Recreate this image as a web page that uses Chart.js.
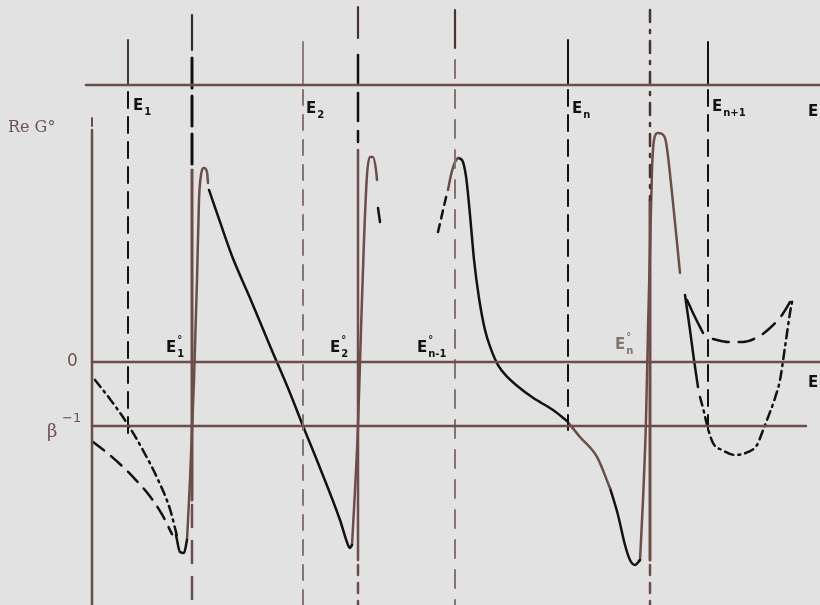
<!DOCTYPE html>
<html><head><meta charset="utf-8">
<script src="https://cdn.jsdelivr.net/npm/chart.js@4"></script>
<style>html,body{margin:0;padding:0;background:#e2e2e2;overflow:hidden}canvas{display:block}</style>
</head><body>
<canvas id="c" width="820" height="605"></canvas>
<script>
// ---- Data (E in arbitrary units, Re G° in units where β⁻¹ = -1) ----
const axisLeft    = [[92,3.625],[92,-3.797]];
const axisLeftTop = [[92,3.813],[92,3.688]];
const lineTop  = [[86,4.328],[820,4.328]];
const lineZero = [[92,0],[820,0]];
const lineBeta = [[92,-1],[806,-1]];

const e1Solid  = [[128,5.031],[128,4.328]];
const e1Dash   = [[128,4.219],[128,-1.141]];
const e2Solid  = [[303,5.0],[303,4.328]];
const e2Dash   = [[303,4.25],[303,-3.797]];
const enSolid  = [[568,5.031],[568,4.328]];
const enDash   = [[568,4.25],[568,-1.063]];
const en1Solid = [[708,5.0],[708,4.328]];
const en1Dash  = [[708,4.25],[708,-1.063]];

const e1zTop   = [[192,5.422],[192,4.875]];
const e1zDash  = [[192,4.75],[192,3.031]];
const e1zSolid = [[192,3.0],[192,-2.156]];
const e1zLow   = [[192,-2.234],[192,-3.797]];
const e2zTop   = [[358,5.547],[358,5.063]];
const e2zDash  = [[358,4.797],[358,3.438]];
const e2zSolid = [[358,3.313],[358,-3.094]];
const e2zLow   = [[358,-3.172],[358,-3.797]];
const en1zTop  = [[455,5.5],[455,4.906]];
const en1zDash = [[455,4.719],[455,-3.797]];
const enzTop   = [[650,5.5],[650,2.531]];
const enzSolid = [[650,2.531],[650,-3.094]];
const enzLow   = [[650,-3.172],[650,-3.797]];

// curves
const aDashDot = [[95,-0.28],[110,-0.58],[128,-0.98],[143,-1.38],[158,-1.84],[170,-2.3],[177,-2.72]];
const aDash    = [[93,-1.25],[108,-1.43],[123,-1.64],[135,-1.83],[148,-2.06],[162,-2.38],[172,-2.69]];
const aMinBlk  = [[176,-2.703],[180,-2.969],[184,-2.984],[187,-2.781]];
const aRiseBrn = [[187,-2.781],[190,-1.844],[194,-0.281],[197,1.281],[199,2.531],[201,2.922],[204,3.031],[207,2.969],[208,2.797]];
const aFall    = [[209,2.688],[220,2.188],[232,1.656],[250,1.0],[270,0.25],[290,-0.484],[303,-1.0],[320,-1.656],[340,-2.469],[348,-2.859],[350,-2.906],[352,-2.859]];
const aRise2   = [[352,-2.859],[355,-2.0],[358,-1.0],[361,0.5],[364,1.906],[367,2.922],[370,3.203],[373,3.203],[376,3.0],[377,2.844]];
const aTick    = [[378,2.406],[380,2.188]];

const bStart   = [[438,2.031],[447,2.641]];
const bPeakL   = [[448,2.688],[451,2.922],[455,3.125],[458,3.188]];
const bFall    = [[458,3.188],[462,3.156],[466,2.9],[470,2.3],[474,1.6],[479,1.0],[485,0.5],[491,0.2],[498,-0.05],[507,-0.23],[517,-0.37],[533,-0.56],[553,-0.75],[567,-0.922]];
const bMidBrn  = [[567,-0.922],[580,-1.172],[597,-1.484],[610,-1.969]];
const bMin     = [[610,-1.969],[618,-2.391],[625,-2.859],[630,-3.094],[635,-3.172],[640,-3.094]];
const bRiseBrn = [[640,-3.094],[643,-2.156],[646,-0.906],[648,0.5],[650,1.75],[652,3.0],[654,3.469],[658,3.578],[662,3.563],[666,3.438],[672,2.641],[680,1.391]];

const cSolid   = [[685,1.047],[690,0.5],[694,0.031],[698,-0.391]];
const cDashDot = [[700,-0.547],[704,-0.781],[707,-0.984],[713,-1.266],[722,-1.375],[735,-1.453],[748,-1.406],[757,-1.297],[762,-1.109],[767,-0.906],[775,-0.563],[780,-0.281],[785,0.234],[790,0.766],[793,1.016]];
const cUpSolid = [[687,0.969],[693,0.766],[703,0.453]];
const cUpDash  = [[713,0.359],[728,0.313],[743,0.313],[758,0.391],[770,0.531],[782,0.734],[793,1.016]];

// labels: [main, sub, sup]
const labelMain = ['E','E','E','E','E','E','E','E','E','E'];
const labelSub  = ['1','2','n','n+1','','','1','2','n-1','n'];
const labelSup  = ['','','','','','','°','°','°','°'];

// ---- styling ----
const BROWN = '#6c4e48', BLACK = '#141111', GRAY = '#857370';
function ds(data, color, width, dash, smooth) {
  const d = { data: data.map(p => ({x:p[0], y:p[1]})), showLine:true, borderColor:color,
    borderWidth:width, borderDash:dash||[], pointRadius:0, tension:0,
    borderCapStyle:'round', fill:false };
  if (smooth) { d.cubicInterpolationMode = 'monotone'; d.tension = 0.4; }
  return d;
}
const DD = [9,5,2,5];
const datasets = [
  ds(lineTop, BROWN, 2.5), ds(lineZero, BROWN, 2.5), ds(lineBeta, BROWN, 2.5),
  ds(axisLeft, BROWN, 2.5), ds(axisLeftTop, BROWN, 2),
  ds(e1Solid, '#4a3430', 2), ds(e1Dash, BLACK, 2, [16,9]),
  ds(e2Solid, GRAY, 1.8), ds(e2Dash, GRAY, 2, [15,10]),
  ds(enSolid, BLACK, 2), ds(enDash, BLACK, 2, [16,9]),
  ds(en1Solid, BLACK, 2), ds(en1Dash, BLACK, 2, [16,9]),
  ds(e1zTop, '#3a2a27', 2.2), ds(e1zDash, BLACK, 3, [30,8]), ds(e1zSolid, BROWN, 3), ds(e1zLow, BROWN, 2.5, [22,14]),
  ds(e2zTop, '#4a3430', 2.2), ds(e2zDash, BLACK, 2.5, [28,10]), ds(e2zSolid, BROWN, 2.5), ds(e2zLow, BROWN, 2.5, [10,8]),
  ds(en1zTop, '#4a3430', 2.2), ds(en1zDash, GRAY, 2, [18,12]),
  ds(enzTop, '#4a3430', 2.5, [12,8,3,8]), ds(enzSolid, BROWN, 3), ds(enzLow, BROWN, 2.5, [10,8]),
  ds(aDashDot, BLACK, 2.5, DD, true), ds(aDash, BLACK, 2.5, [14,9], true),
  ds(aMinBlk, BLACK, 2.5, [], true), ds(aRiseBrn, BROWN, 2.5, [], true),
  ds(aFall, BLACK, 2.5, [], true), ds(aRise2, BROWN, 2.5, [], true), ds(aTick, BLACK, 2.5),
  ds(bStart, BLACK, 2.5, [8,6]), ds(bPeakL, BROWN, 2.5, [], true), ds(bFall, BLACK, 2.5, [], true),
  ds(bMidBrn, BROWN, 2.5, [], true), ds(bMin, BLACK, 2.5, [], true), ds(bRiseBrn, BROWN, 2.5, [], true),
  ds(cSolid, BLACK, 2.5, [], true), ds(cDashDot, BLACK, 2.5, DD, true),
  ds(cUpSolid, BLACK, 2.5, [], true), ds(cUpDash, BLACK, 2.5, [16,10], true)
];

// label positions (data units), left edge x and vertical centre y
const labelPos = [[133,4.0],[306,3.95],[572,3.95],[712,3.98],[808,3.9],[808,-0.33],[166,0.22],[330,0.22],[417,0.22],[615,0.26]];
const labelColor = [BLACK,BLACK,BLACK,BLACK,BLACK,BLACK,BLACK,BLACK,BLACK,GRAY];

const labelPlugin = {
  id:'labels',
  beforeDraw(chart){ const c=chart.ctx; c.save(); c.fillStyle='#e2e2e2'; c.fillRect(0,0,chart.width,chart.height); c.restore(); },
  afterDraw(chart){
    const ctx = chart.ctx, sx = chart.scales.x, sy = chart.scales.y;
    ctx.save();
    ctx.textBaseline = 'middle';
    ctx.fillStyle = '#6a5550';
    ctx.font = '16px "DejaVu Serif"';
    ctx.fillText('Re G°', sx.getPixelForValue(8), sy.getPixelForValue(3.66));
    ctx.font = '17px "DejaVu Sans"';
    ctx.fillText('0', sx.getPixelForValue(67), sy.getPixelForValue(0));
    ctx.font = '18px "DejaVu Serif"';
    ctx.fillText('β', sx.getPixelForValue(47), sy.getPixelForValue(-1.1));
    ctx.font = '13px "DejaVu Sans"';
    ctx.fillText('−1', sx.getPixelForValue(62), sy.getPixelForValue(-0.88));
    for (let i = 0; i < labelMain.length; i++) {
      const x = sx.getPixelForValue(labelPos[i][0]), y = sy.getPixelForValue(labelPos[i][1]);
      ctx.fillStyle = labelColor[i];
      ctx.font = 'bold 15px "DejaVu Sans"';
      ctx.fillText(labelMain[i], x, y);
      const w = ctx.measureText(labelMain[i]).width;
      ctx.font = 'bold 10px "DejaVu Sans"';
      if (labelSub[i]) ctx.fillText(labelSub[i], x + w + 1, y + 6);
      if (labelSup[i]) ctx.fillText(labelSup[i], x + w + 1, y - 8);
    }
    ctx.restore();
  }
};

new Chart(document.getElementById('c'), {
  type:'scatter',
  data:{ datasets },
  options:{
    responsive:false, animation:false, events:[],
    layout:{ padding:0 },
    plugins:{ legend:{display:false}, tooltip:{enabled:false} },
    scales:{
      x:{ type:'linear', min:0, max:820, display:false },
      y:{ type:'linear', min:-3.797, max:5.656, display:false }
    }
  },
  plugins:[labelPlugin]
});
</script>
</body></html>
